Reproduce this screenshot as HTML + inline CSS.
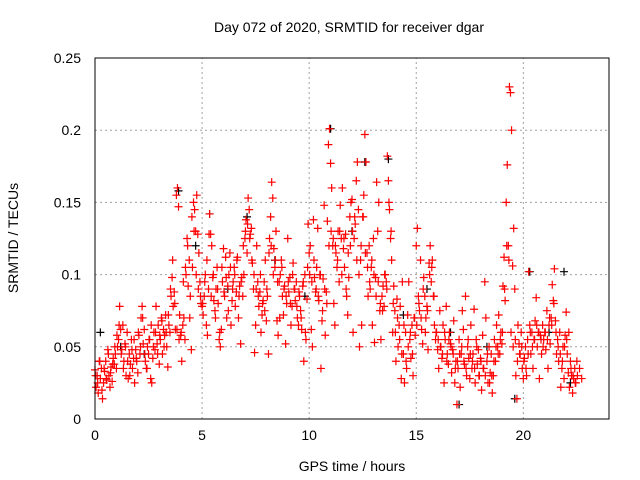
<!DOCTYPE html>
<html><head><meta charset="utf-8"><style>
body{margin:0;background:#fff}
svg{display:block;font-family:"Liberation Sans",sans-serif}
</style></head><body>
<svg id="chart" width="640" height="480">
<rect width="640" height="480" fill="#fff"/>
<text x="349" y="32" text-anchor="middle" font-size="14">Day 072 of 2020, SRMTID for receiver dgar</text>
<text transform="translate(18,238) rotate(-90)" text-anchor="middle" font-size="14">SRMTID / TECUs</text>
<text x="352" y="471" text-anchor="middle" font-size="14">GPS time / hours</text>
<g id="grid"></g>
<g id="ticks"></g>
<g id="marks"></g>
<rect x="95" y="58" width="514" height="361" fill="none" stroke="#000" stroke-width="1"/>
</svg>
<script>
const xTicks=[0,5,10,15,20];
const yTicks=[0,0.05,0.1,0.15,0.2,0.25];
const yTickLabels=["0","0.05","0.1","0.15","0.2","0.25"];
const redTimes=[0,0.05,0.1,0.15,0.2,0.25,0.3,0.35,0.4,0.45,0.5,0.55,0.6,0.65,0.7,0.75,0.8,0.85,0.9,0.95,1,1.05,1.1,1.15,1.2,1.25,1.3,1.35,1.4,1.45,1.5,1.55,1.6,1.65,1.7,1.75,1.8,1.85,1.9,1.95,2,2.05,2.1,2.15,2.2,2.25,2.3,2.35,2.4,2.45,2.5,2.55,2.6,2.65,2.7,2.75,2.8,2.85,2.9,2.95,3,3.05,3.1,3.15,3.2,3.25,3.3,3.35,3.4,3.45,3.5,3.55,3.6,3.65,3.7,3.75,3.8,3.85,3.9,3.95,4,4.05,4.1,4.15,4.2,4.25,4.3,4.35,4.4,4.45,4.5,4.55,4.6,4.65,4.7,4.75,4.8,4.85,4.9,4.95,5,5.05,5.1,5.15,5.2,5.25,5.3,5.35,5.4,5.45,5.5,5.55,5.6,5.65,5.7,5.75,5.8,5.85,5.9,5.95,6,6.05,6.1,6.15,6.2,6.25,6.3,6.35,6.4,6.45,6.5,6.55,6.6,6.65,6.7,6.75,6.8,6.85,6.9,6.95,7,7.05,7.1,7.15,7.2,7.25,7.3,7.35,7.4,7.45,7.5,7.55,7.6,7.65,7.7,7.75,7.8,7.85,7.9,7.95,8,8.05,8.1,8.15,8.2,8.25,8.3,8.35,8.4,8.45,8.5,8.55,8.6,8.65,8.7,8.75,8.8,8.85,8.9,8.95,9,9.05,9.1,9.15,9.2,9.25,9.3,9.35,9.4,9.45,9.5,9.55,9.6,9.65,9.7,9.75,9.8,9.85,9.9,9.95,10,10.05,10.1,10.15,10.2,10.25,10.3,10.35,10.4,10.45,10.5,10.55,10.6,10.65,10.7,10.75,10.8,10.85,10.9,10.95,11,11.05,11.1,11.15,11.2,11.25,11.3,11.35,11.4,11.45,11.5,11.55,11.6,11.65,11.7,11.75,11.8,11.85,11.9,11.95,12,12.05,12.1,12.15,12.2,12.25,12.3,12.35,12.4,12.45,12.5,12.55,12.6,12.65,12.7,12.75,12.8,12.85,12.9,12.95,13,13.05,13.1,13.15,13.2,13.25,13.3,13.35,13.4,13.45,13.5,13.55,13.6,13.65,13.7,13.75,13.8,13.85,13.9,13.95,14,14.05,14.1,14.15,14.2,14.25,14.3,14.35,14.4,14.45,14.5,14.55,14.6,14.65,14.7,14.75,14.8,14.85,14.9,14.95,15,15.05,15.1,15.15,15.2,15.25,15.3,15.35,15.4,15.45,15.5,15.55,15.6,15.65,15.7,15.75,15.8,15.85,15.9,15.95,16,16.05,16.1,16.15,16.2,16.25,16.3,16.35,16.4,16.45,16.5,16.55,16.6,16.65,16.7,16.75,16.8,16.85,16.9,16.95,17,17.05,17.1,17.15,17.2,17.25,17.3,17.35,17.4,17.45,17.5,17.55,17.6,17.65,17.7,17.75,17.8,17.85,17.9,17.95,18,18.05,18.1,18.15,18.2,18.25,18.3,18.35,18.4,18.45,18.5,18.55,18.6,18.65,18.7,18.75,18.8,18.85,18.9,18.95,19,19.05,19.1,19.15,19.2,19.25,19.3,19.35,19.4,19.45,19.5,19.55,19.6,19.65,19.7,19.75,19.8,19.85,19.9,19.95,20,20.05,20.1,20.15,20.2,20.25,20.3,20.35,20.4,20.45,20.5,20.55,20.6,20.65,20.7,20.75,20.8,20.85,20.9,20.95,21,21.05,21.1,21.15,21.2,21.25,21.3,21.35,21.4,21.45,21.5,21.55,21.6,21.65,21.7,21.75,21.8,21.85,21.9,21.95,22,22.05,22.1,22.15,22.2,22.25,22.3,22.35,22.4,22.45,22.5];
const redValues=[.034,.022,.03,.018,.04,.028,.035,.014,.025,.033,.04,.027,.048,.03,.022,.036,.026,.042,.038,.045,.035,.05,.055,.078,.062,.048,.065,.04,.052,.03,.06,.028,.045,.038,.055,.035,.042,.025,.048,.04,.032,.058,.045,.07,.078,.052,.062,.04,.035,.05,.045,.055,.028,.025,.042,.06,.048,.078,.052,.065,.038,.055,.07,.045,.062,.058,.072,.05,.036,.065,.06,.085,.098,.078,.088,.062,.155,.16,.147,.072,.058,.04,.065,.07,.055,.1,.125,.092,.11,.085,.048,.105,.15,.145,.13,.155,.128,.115,.095,.08,.078,.072,.085,.1,.065,.058,.09,.142,.128,.12,.098,.082,.075,.09,.105,.08,.055,.05,.062,.095,.118,.085,.112,.07,.092,.1,.115,.065,.082,.095,.105,.078,.088,.112,.07,.092,.052,.098,.085,.1,.125,.138,.115,.153,.145,.128,.132,.108,.09,.046,.065,.12,.095,.078,.088,.06,.072,.082,.095,.11,.068,.085,.045,.125,.14,.164,.153,.118,.105,.13,.068,.058,.095,.1,.11,.085,.072,.092,.052,.08,.125,.088,.098,.065,.078,.108,.09,.082,.095,.07,.065,.085,.075,.062,.092,.04,.1,.055,.083,.135,.115,.12,.062,.05,.138,.098,.088,.105,.132,.082,.1,.035,.068,.097,.148,.058,.088,.137,.19,.201,.177,.16,.12,.08,.065,.115,.105,.13,.095,.148,.125,.16,.118,.105,.128,.085,.072,.098,.14,.15,.152,.06,.125,.135,.165,.178,.145,.05,.11,.065,.14,.155,.197,.178,.115,.085,.12,.09,.105,.065,.125,.053,.098,.164,.13,.15,.075,.055,.085,.092,.078,.1,.095,.182,.165,.145,.125,.11,.06,.092,.075,.04,.083,.05,.065,.078,.028,.095,.045,.025,.06,.035,.072,.095,.055,.042,.065,.03,.07,.058,.12,.132,.085,.075,.11,.062,.052,.098,.085,.07,.078,.048,.108,.12,.095,.11,.085,.065,.055,.06,.048,.035,.075,.05,.042,.065,.025,.055,.078,.045,.038,.06,.052,.032,.048,.068,.025,.04,.01,.035,.055,.022,.045,.075,.062,.038,.085,.03,.05,.042,.028,.065,.035,.045,.076,.025,.055,.038,.048,.03,.042,.02,.058,.035,.095,.07,.04,.025,.05,.032,.045,.018,.03,.055,.04,.065,.05,.072,.045,.06,.052,.092,.112,.082,.15,.176,.12,.23,.226,.2,.106,.132,.09,.03,.014,.065,.052,.045,.06,.035,.028,.042,.05,.03,.055,.102,.065,.045,.06,.035,.055,.068,.084,.05,.06,.028,.058,.045,.065,.055,.06,.048,.075,.035,.065,.052,.07,.093,.082,.104,.068,.045,.055,.04,.06,.022,.035,.05,.028,.058,.074,.045,.032,.022,.04,.03,.018,.028,.035,.025,.04];
const redTimes2=[0.025,0.125,0.225,0.325,0.425,0.525,0.625,0.725,0.825,0.925,1.025,1.125,1.225,1.325,1.425,1.525,1.625,1.725,1.825,1.925,2.025,2.125,2.225,2.325,2.425,2.525,2.625,2.725,2.825,2.925,3.025,3.125,3.225,3.325,3.425,3.525,3.625,3.725,3.825,3.925,4.025,4.125,4.225,4.325,4.425,4.525,4.625,4.725,4.825,4.925,5.025,5.125,5.225,5.325,5.425,5.525,5.625,5.725,5.825,5.925,6.025,6.125,6.225,6.325,6.425,6.525,6.625,6.725,6.825,6.925,7.025,7.125,7.225,7.325,7.425,7.525,7.625,7.725,7.825,7.925,8.025,8.125,8.225,8.325,8.425,8.525,8.625,8.725,8.825,8.925,9.025,9.125,9.225,9.325,9.425,9.525,9.625,9.725,9.825,9.925,10.025,10.125,10.225,10.325,10.425,10.525,10.625,10.725,10.825,10.925,11.025,11.125,11.225,11.325,11.425,11.525,11.625,11.725,11.825,11.925,12.025,12.125,12.225,12.325,12.425,12.525,12.625,12.725,12.825,12.925,13.025,13.125,13.225,13.325,13.425,13.525,13.625,13.725,13.825,13.925,14.025,14.125,14.225,14.325,14.425,14.525,14.625,14.725,14.825,14.925,15.025,15.125,15.225,15.325,15.425,15.525,15.625,15.725,15.825,15.925,16.025,16.125,16.225,16.325,16.425,16.525,16.625,16.725,16.825,16.925,17.025,17.125,17.225,17.325,17.425,17.525,17.625,17.725,17.825,17.925,18.025,18.125,18.225,18.325,18.425,18.525,18.625,18.725,18.825,18.925,19.025,19.125,19.225,19.325,19.425,19.525,19.625,19.725,19.825,19.925,20.025,20.125,20.225,20.325,20.425,20.525,20.625,20.725,20.825,20.925,21.025,21.125,21.225,21.325,21.425,21.525,21.625,21.725,21.825,21.925,22.025,22.125,22.225,22.325,22.425,22.525,22.625,22.725];
const redValues2=[.03,.025,.04,.02,.035,.028,.045,.032,.038,.05,.058,.065,.045,.035,.05,.04,.03,.048,.055,.042,.06,.05,.07,.045,.035,.055,.065,.05,.06,.045,.058,.068,.05,.06,.072,.09,.11,.08,.062,.055,.06,.095,.105,.12,.07,.14,.13,.1,.09,.085,.08,.095,.11,.128,.085,.1,.07,.09,.06,.105,.088,.098,.075,.105,.09,.1,.11,.085,.095,.12,.13,.135,.125,.11,.1,.09,.085,.1,.08,.075,.09,.115,.12,.1,.11,.095,.07,.105,.09,.085,.095,.08,.1,.09,.078,.088,.07,.095,.06,.105,.1,.095,.11,.09,.085,.1,.075,.09,.08,.12,.13,.125,.12,.11,.13,.1,.125,.09,.115,.12,.13,.14,.11,.1,.12,.14,.115,.105,.095,.11,.1,.085,.095,.08,.075,.1,.09,.15,.13,.08,.06,.07,.055,.045,.065,.04,.05,.06,.045,.07,.065,.08,.07,.09,.06,.075,.1,.105,.085,.06,.055,.05,.045,.06,.04,.055,.05,.045,.035,.04,.045,.05,.04,.035,.055,.045,.04,.035,.05,.03,.04,.035,.03,.045,.025,.03,.04,.05,.045,.055,.06,.09,.12,.11,.06,.05,.055,.04,.045,.05,.04,.035,.045,.06,.05,.055,.065,.06,.055,.05,.06,.055,.07,.065,.08,.06,.05,.045,.04,.05,.055,.06,.035,.03,.025,.03,.035,.028];
const blackTimes=[0.25,1.2,2.3,3.9,4.7,5.35,6.2,7.1,8.4,9.8,11.0,12.0,12.6,13.7,14.4,15.5,16.6,17.0,18.3,19.6,20.3,21.2,21.9,22.2];
const blackValues=[.06,.05,.045,.158,.12,.142,.09,.14,.11,.085,.201,.13,.178,.18,.072,.09,.06,.01,.05,.014,.102,.06,.102,.025];

const X0=95,X1=609,Y0=419,Y1=58,XMAX=24,YMAX=0.25;
const sx=v=>X0+v/XMAX*(X1-X0);
const sy=v=>Y0-v/YMAX*(Y0-Y1);
const NS="http://www.w3.org/2000/svg";
const grid=document.getElementById('grid'),ticks=document.getElementById('ticks'),marks=document.getElementById('marks');
function mk(tag,attrs,parent){const e=document.createElementNS(NS,tag);for(const k in attrs)e.setAttribute(k,attrs[k]);parent.appendChild(e);return e;}
xTicks.forEach(t=>{
  const x=sx(t);
  if(t>0){const g=mk('line',{x1:x,x2:x,y1:Y0,y2:Y1,stroke:'#a0a0a0','stroke-dasharray':'2,3'},grid);
  
  }
  const l=mk('text',{x:x,y:Y0+21,'text-anchor':'middle','font-size':14},ticks);l.textContent=t;
  
  
});
yTicks.forEach((t,i)=>{
  const y=sy(t);
  if(t>0&&t<YMAX){const g=mk('line',{x1:X0,x2:X1,y1:y,y2:y,stroke:'#a0a0a0','stroke-dasharray':'2,3'},grid);
  
  }
  const l=mk('text',{x:X0-14,y:y+5,'text-anchor':'end','font-size':14},ticks);l.textContent=yTickLabels[i];
  
  
});
function plus(x,y,col,name){
  const p=mk('path',{d:`M${x-4},${y}h8M${x},${y-4}v8`,stroke:col,'stroke-width':1.2,fill:'none'},marks);
  
  
}
blackTimes.forEach((t,i)=>plus(sx(t),sy(blackValues[i]),'#000','black-point'));
redTimes.forEach((t,i)=>plus(sx(t),sy(redValues[i]),'#f00','red-point'));
redTimes2.forEach((t,i)=>plus(sx(t),sy(redValues2[i]),'#f00','red-point'));
</script>
</body></html>
